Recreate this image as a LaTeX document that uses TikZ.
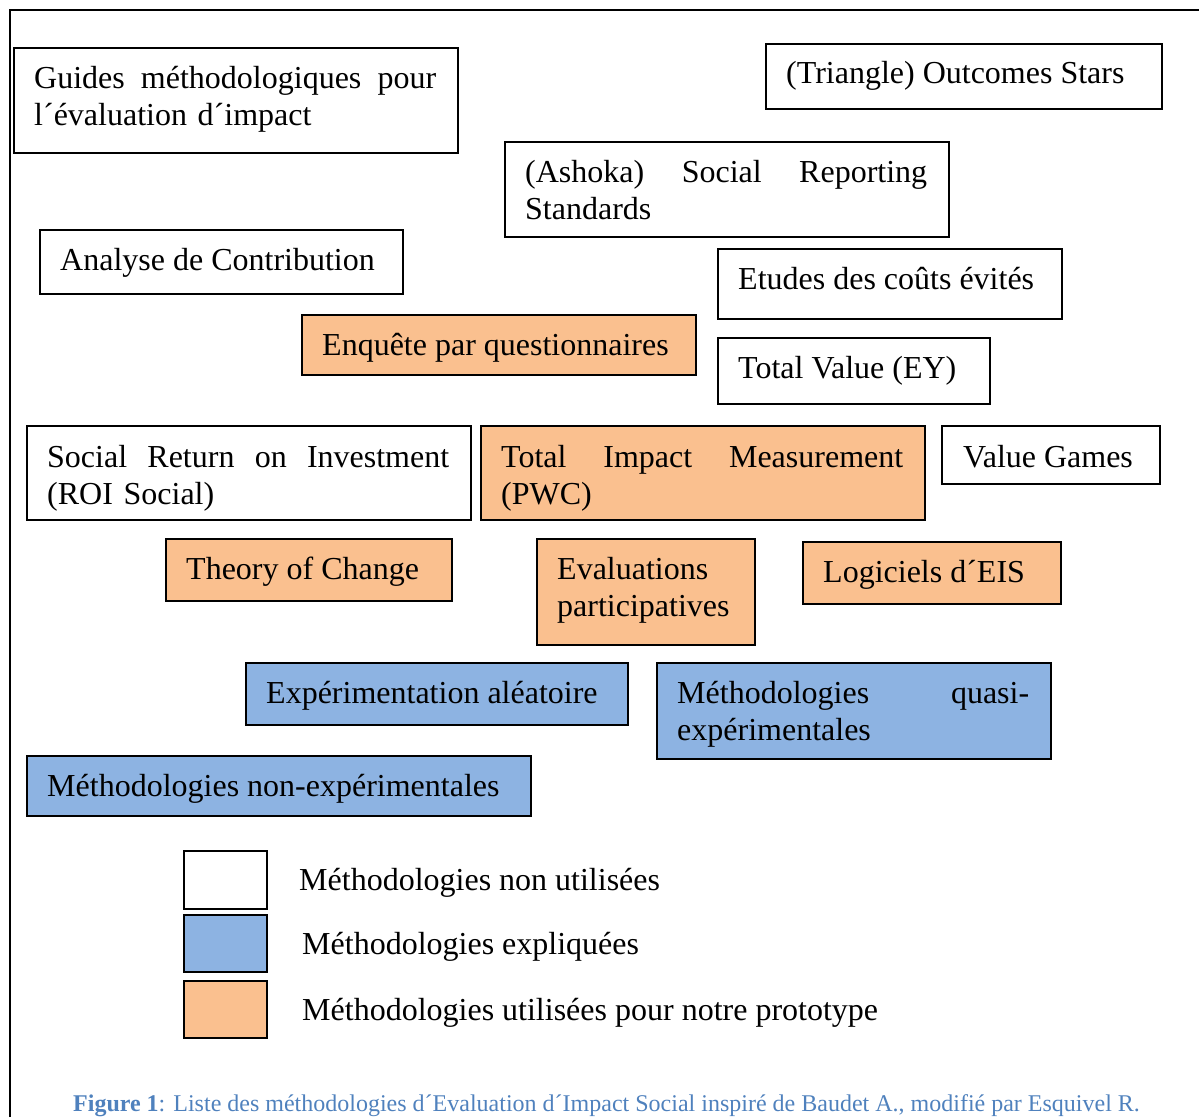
\documentclass[tikz,border=0pt]{standalone}
\usepackage{fontspec}
\setmainfont{Liberation Serif}
\definecolor{orfill}{HTML}{FAC08F}
\definecolor{blfill}{HTML}{8DB3E2}
\definecolor{capblue}{HTML}{4F81BD}
\begin{document}
\begin{tikzpicture}[x=1pt,y=-1pt,
  mbox/.style={draw=black, line width=1.5pt, anchor=north west, inner sep=0pt},
  wbox/.style={mbox, fill=white},
  obox/.style={mbox, fill=orfill},
  bbox/.style={mbox, fill=blfill},
  txt/.style={anchor=base west, inner sep=0pt, align=left, font=\fontsize{32}{37}\selectfont}]
\useasboundingbox (0,0) rectangle (1199,1117);
\draw[line width=2pt] (10,1117) -- (10,10) -- (1199,10);

% boxes
\node[wbox, minimum width=444pt, minimum height=105pt] (guides) at (13,47) {};
\node[txt, text width=402pt] (guidesT) at ([xshift=21pt,yshift=-41pt]guides.north west) {Guides\hfill méthodologiques\hfill pour\\l´évaluation d´impact};

\node[wbox, minimum width=396pt, minimum height=65pt] (stars) at (765,43) {};
\node[txt] (starsT) at ([xshift=21pt,yshift=-40pt]stars.north west) {(Triangle) Outcomes Stars};

\node[wbox, minimum width=444pt, minimum height=95pt] (ashoka) at (504,141) {};
\node[txt, text width=402pt] (ashokaT) at ([xshift=21pt,yshift=-41pt]ashoka.north west) {(Ashoka)\hfill Social\hfill Reporting\\Standards};

\node[wbox, minimum width=363pt, minimum height=64pt] (contrib) at (39,229) {};
\node[txt] (contribT) at ([xshift=21pt,yshift=-41pt]contrib.north west) {Analyse de Contribution};

\node[wbox, minimum width=344pt, minimum height=70pt] (couts) at (717,248) {};
\node[txt] (coutsT) at ([xshift=21pt,yshift=-41pt]couts.north west) {Etudes des coûts évités};

\node[obox, minimum width=394pt, minimum height=60pt] (enquete) at (301,314) {};
\node[txt] (enqueteT) at ([xshift=21pt,yshift=-41pt]enquete.north west) {Enquête par questionnaires};

\node[wbox, minimum width=272pt, minimum height=66pt] (tvalue) at (717,337) {};
\node[txt] (tvalueT) at ([xshift=21pt,yshift=-41pt]tvalue.north west) {Total Value (EY)};

\node[wbox, minimum width=444pt, minimum height=94pt] (sroi) at (26,425) {};
\node[txt, text width=402pt] (sroiT) at ([xshift=21pt,yshift=-42pt]sroi.north west) {Social\hfill Return\hfill on\hfill Investment\\(ROI Social)};

\node[obox, minimum width=444pt, minimum height=94pt] (tim) at (480,425) {};
\node[txt, text width=402pt] (timT) at ([xshift=21pt,yshift=-42pt]tim.north west) {Total\hfill Impact\hfill Measurement\\(PWC)};

\node[wbox, minimum width=218pt, minimum height=58pt] (games) at (941,425) {};
\node[txt] (gamesT) at ([xshift=22pt,yshift=-42pt]games.north west) {Value Games};

\node[obox, minimum width=286pt, minimum height=62pt] (toc) at (165,538) {};
\node[txt] (tocT) at ([xshift=21pt,yshift=-41pt]toc.north west) {Theory of Change};

\node[obox, minimum width=218pt, minimum height=106pt] (evalp) at (536,538) {};
\node[txt, text width=176pt] (evalpT) at ([xshift=21pt,yshift=-41pt]evalp.north west) {Evaluations\\participatives};

\node[obox, minimum width=258pt, minimum height=62pt] (logic) at (802,541) {};
\node[txt] (logicT) at ([xshift=21pt,yshift=-41pt]logic.north west) {Logiciels d´EIS};

\node[bbox, minimum width=382pt, minimum height=62pt] (alea) at (245,662) {};
\node[txt] (aleaT) at ([xshift=21pt,yshift=-41pt]alea.north west) {Expérimentation aléatoire};

\node[bbox, minimum width=394pt, minimum height=96pt] (quasi) at (656,662) {};
\node[txt, text width=352pt] (quasiT) at ([xshift=21pt,yshift=-41pt]quasi.north west) {Méthodologies\hfill quasi-\\expérimentales};

\node[bbox, minimum width=504pt, minimum height=60pt] (nonexp) at (26,755) {};
\node[txt] (nonexpT) at ([xshift=21pt,yshift=-41pt]nonexp.north west) {Méthodologies non-expérimentales};

% legend
\node[wbox, minimum width=83pt, minimum height=58pt] (legW) at (183,850) {};
\node[txt] (legWT) at (299,890) {Méthodologies non utilisées};
\node[bbox, minimum width=83pt, minimum height=57pt] (legB) at (183,914) {};
\node[txt] (legBT) at (302,954) {Méthodologies expliquées};
\node[obox, minimum width=83pt, minimum height=57pt] (legO) at (183,980) {};
\node[txt] (legOT) at (302,1020) {Méthodologies utilisées pour notre prototype};

% caption
\node[anchor=base west, inner sep=0pt, text=capblue, font=\fontsize{24}{28}\selectfont] (caption) at (73,1111) {\textbf{Figure 1}: Liste des méthodologies d´Evaluation d´Impact Social inspiré de Baudet A., modifié par Esquivel R.};
\end{tikzpicture}
\end{document}
